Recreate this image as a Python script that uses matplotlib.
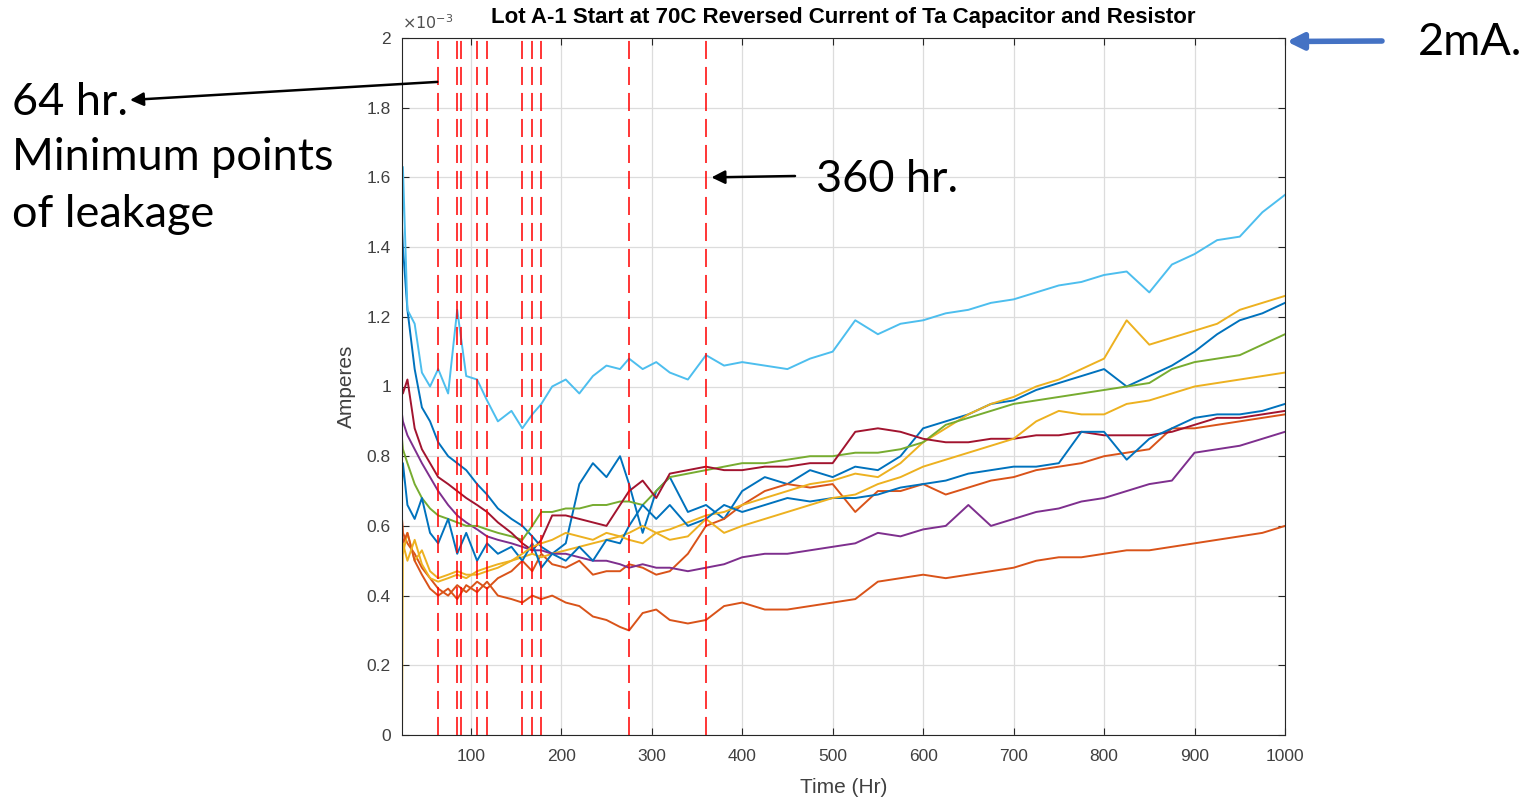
import matplotlib
matplotlib.use("Agg")
import matplotlib.pyplot as plt
from matplotlib.ticker import FuncFormatter

plt.rcParams['font.family'] = ['Liberation Sans', 'DejaVu Sans']

# tiempo (horas)
t = [24, 25, 30, 38, 46, 55, 64, 75, 85, 95, 107, 118, 130, 145, 157, 168, 178, 190, 205, 220,
     235, 250, 265, 275, 290, 305, 320, 340, 360, 380, 400, 425, 450, 475, 500, 525, 550, 575, 600, 625,
     650, 675, 700, 725, 750, 775, 800, 825, 850, 875, 900, 925, 950, 975, 1000]

# corrientes (x1e-3 A)
blue1 = [1.46, 1.40, 1.22, 1.05, 0.94, 0.90, 0.84, 0.80, 0.78, 0.76, 0.72, 0.69, 0.65, 0.62, 0.60, 0.57, 0.54, 0.52, 0.55, 0.72,
         0.78, 0.74, 0.80, 0.72, 0.58, 0.70, 0.74, 0.64, 0.66, 0.62, 0.70, 0.74, 0.72, 0.76, 0.74, 0.77, 0.76, 0.80, 0.88, 0.90,
         0.92, 0.95, 0.96, 0.99, 1.01, 1.03, 1.05, 1.00, 1.03, 1.06, 1.10, 1.15, 1.19, 1.21, 1.24]
orange1 = [0.62, 0.58, 0.55, 0.52, 0.48, 0.45, 0.42, 0.40, 0.43, 0.41, 0.44, 0.42, 0.45, 0.47, 0.50, 0.47, 0.52, 0.49, 0.48, 0.50,
           0.46, 0.47, 0.47, 0.49, 0.48, 0.46, 0.47, 0.52, 0.60, 0.62, 0.66, 0.70, 0.72, 0.71, 0.72, 0.64, 0.70, 0.70, 0.72, 0.69,
           0.71, 0.73, 0.74, 0.76, 0.77, 0.78, 0.80, 0.81, 0.82, 0.88, 0.88, 0.89, 0.90, 0.91, 0.92]
yellow1 = [0.56, 0.52, 0.58, 0.50, 0.53, 0.47, 0.45, 0.46, 0.47, 0.46, 0.46, 0.47, 0.48, 0.50, 0.51, 0.52, 0.51, 0.52, 0.53, 0.54,
           0.55, 0.56, 0.57, 0.58, 0.60, 0.58, 0.59, 0.61, 0.63, 0.64, 0.66, 0.68, 0.70, 0.72, 0.73, 0.75, 0.74, 0.78, 0.84, 0.88,
           0.92, 0.95, 0.97, 1.00, 1.02, 1.05, 1.08, 1.19, 1.12, 1.14, 1.16, 1.18, 1.22, 1.24, 1.26]
purple = [0.92, 0.90, 0.86, 0.82, 0.78, 0.74, 0.70, 0.66, 0.63, 0.61, 0.59, 0.57, 0.56, 0.55, 0.54, 0.53, 0.53, 0.52, 0.52, 0.51,
          0.50, 0.50, 0.49, 0.48, 0.49, 0.48, 0.48, 0.47, 0.48, 0.49, 0.51, 0.52, 0.52, 0.53, 0.54, 0.55, 0.58, 0.57, 0.59, 0.60,
          0.66, 0.60, 0.62, 0.64, 0.65, 0.67, 0.68, 0.70, 0.72, 0.73, 0.81, 0.82, 0.83, 0.85, 0.87]
green = [0.85, 0.82, 0.78, 0.72, 0.68, 0.65, 0.63, 0.62, 0.61, 0.60, 0.60, 0.59, 0.58, 0.57, 0.56, 0.60, 0.64, 0.64, 0.65, 0.65,
         0.66, 0.66, 0.67, 0.67, 0.66, 0.70, 0.74, 0.75, 0.76, 0.77, 0.78, 0.78, 0.79, 0.80, 0.80, 0.81, 0.81, 0.82, 0.84, 0.89,
         0.91, 0.93, 0.95, 0.96, 0.97, 0.98, 0.99, 1.00, 1.01, 1.05, 1.07, 1.08, 1.09, 1.12, 1.15]
lightblue = [1.46, 1.63, 1.22, 1.18, 1.04, 1.00, 1.05, 0.98, 1.22, 1.03, 1.02, 0.96, 0.90, 0.93, 0.88, 0.92, 0.95, 1.00, 1.02, 0.98,
             1.03, 1.06, 1.05, 1.08, 1.05, 1.07, 1.04, 1.02, 1.09, 1.06, 1.07, 1.06, 1.05, 1.08, 1.10, 1.19, 1.15, 1.18, 1.19, 1.21,
             1.22, 1.24, 1.25, 1.27, 1.29, 1.30, 1.32, 1.33, 1.27, 1.35, 1.38, 1.42, 1.43, 1.50, 1.55]
darkred = [1.00, 0.98, 1.02, 0.88, 0.82, 0.78, 0.74, 0.72, 0.70, 0.68, 0.66, 0.64, 0.61, 0.58, 0.55, 0.53, 0.56, 0.63, 0.63, 0.62,
           0.61, 0.60, 0.66, 0.70, 0.73, 0.68, 0.75, 0.76, 0.77, 0.76, 0.76, 0.77, 0.77, 0.78, 0.78, 0.87, 0.88, 0.87, 0.85, 0.84,
           0.84, 0.85, 0.85, 0.86, 0.86, 0.87, 0.86, 0.86, 0.86, 0.87, 0.89, 0.91, 0.91, 0.92, 0.93]
blue2 = [0.72, 0.78, 0.66, 0.62, 0.68, 0.58, 0.55, 0.62, 0.52, 0.58, 0.50, 0.55, 0.52, 0.54, 0.50, 0.55, 0.48, 0.52, 0.50, 0.54,
         0.50, 0.56, 0.55, 0.60, 0.66, 0.62, 0.66, 0.60, 0.62, 0.66, 0.64, 0.66, 0.68, 0.67, 0.68, 0.68, 0.69, 0.71, 0.72, 0.73,
         0.75, 0.76, 0.77, 0.77, 0.78, 0.87, 0.87, 0.79, 0.85, 0.88, 0.91, 0.92, 0.92, 0.93, 0.95]
orange2 = [0.62, 0.55, 0.58, 0.50, 0.46, 0.42, 0.40, 0.42, 0.39, 0.43, 0.41, 0.44, 0.40, 0.39, 0.38, 0.40, 0.39, 0.40, 0.38, 0.37,
           0.34, 0.33, 0.31, 0.30, 0.35, 0.36, 0.33, 0.32, 0.33, 0.37, 0.38, 0.36, 0.36, 0.37, 0.38, 0.39, 0.44, 0.45, 0.46, 0.45,
           0.46, 0.47, 0.48, 0.50, 0.51, 0.51, 0.52, 0.53, 0.53, 0.54, 0.55, 0.56, 0.57, 0.58, 0.60]
yellow2 = [0.00, 0.55, 0.50, 0.56, 0.49, 0.45, 0.44, 0.45, 0.46, 0.45, 0.47, 0.48, 0.49, 0.50, 0.52, 0.54, 0.55, 0.56, 0.58, 0.57,
           0.56, 0.58, 0.57, 0.56, 0.55, 0.58, 0.56, 0.57, 0.62, 0.58, 0.60, 0.62, 0.64, 0.66, 0.68, 0.69, 0.72, 0.74, 0.77, 0.79,
           0.81, 0.83, 0.85, 0.90, 0.93, 0.92, 0.92, 0.95, 0.96, 0.98, 1.00, 1.01, 1.02, 1.03, 1.04]

series = [blue1, orange1, yellow1, purple, green, lightblue, darkred, blue2, orange2, yellow2]
colores = ['#0072BD', '#D95319', '#EDB120', '#7E2F8E', '#77AC30', '#4DBEEE', '#A2142F',
           '#0072BD', '#D95319', '#EDB120']

# minimos de fuga (horas)
minimos = [64, 85, 89, 107, 118, 157, 168, 178, 275, 360]

W, H = 1523, 797
fig = plt.figure(figsize=(W / 100, H / 100), dpi=100)
ax = fig.add_axes([402 / W, 62 / H, 883 / W, 697 / H])

for s, c in zip(series, colores):
    ax.plot(t, s, color=c, lw=1.4)

for m in minimos:
    ax.axvline(m, color='red', ls=(0, (10, 4.4)), lw=1.3, alpha=0.85)

ax.set_xlim(24, 1000)
ax.set_ylim(0, 2)
ax.set_xticks(range(100, 1001, 100))
ax.set_yticks([i * 0.2 for i in range(11)])
ax.yaxis.set_major_formatter(FuncFormatter(lambda v, p: '%g' % round(v, 2)))
ax.grid(True, color='#dcdcdc', lw=0.9)
ax.tick_params(direction='in', top=True, right=True, length=5, labelsize=12.5,
               labelcolor='#404040', color='#262626')
ax.tick_params(axis='x', pad=10)
ax.tick_params(axis='y', pad=8)
for sp in ax.spines.values():
    sp.set_color('#262626')
ax.set_xlabel('Time (Hr)', fontsize=15, color='#404040', labelpad=10)
ax.set_ylabel('Amperes', fontsize=15, color='#404040', labelpad=8)
ax.set_title('Lot A-1 Start at 70C Reversed Current of Ta Capacitor and Resistor',
             fontsize=16, fontweight='bold', pad=11)
ax.text(0, 1.008, r'$\times10^{-3}$', transform=ax.transAxes, fontsize=11.5,
        color='#505050', va='bottom', ha='left')

# anotaciones
txt = dict(family=['Lato', 'DejaVu Sans'], fontsize=32.5, color='black', va='baseline')
fig.text(12 / W, 1 - 115 / H, '64 hr.', **txt)
fig.text(12 / W, 1 - 170 / H, 'Minimum points', **txt)
fig.text(12 / W, 1 - 227 / H, 'of leakage', **txt)
fig.text(816 / W, 1 - 192 / H, '360 hr.', **txt)
fig.text(1418 / W, 1 - 55 / H, '2mA.', **txt)

flecha = dict(arrowstyle='-|>', color='black', lw=1.8, mutation_scale=20, shrinkA=0, shrinkB=0)
ax.annotate('', xy=(130, H - 100), xycoords='figure pixels',
            xytext=(63, 1.874), textcoords='data', arrowprops=flecha, annotation_clip=False)
ax.annotate('', xy=(366, 1.60), xycoords='data',
            xytext=(795, H - 176), textcoords='figure pixels', arrowprops=flecha, annotation_clip=False)
ax.annotate('', xy=(1002, 1.99), xycoords='data',
            xytext=(1382, H - 41), textcoords='figure pixels', annotation_clip=False,
            arrowprops=dict(arrowstyle='-|>', color='#4472C4', lw=4, mutation_scale=24,
                            shrinkA=0, shrinkB=0))

fig.savefig('out.png', dpi=100)
